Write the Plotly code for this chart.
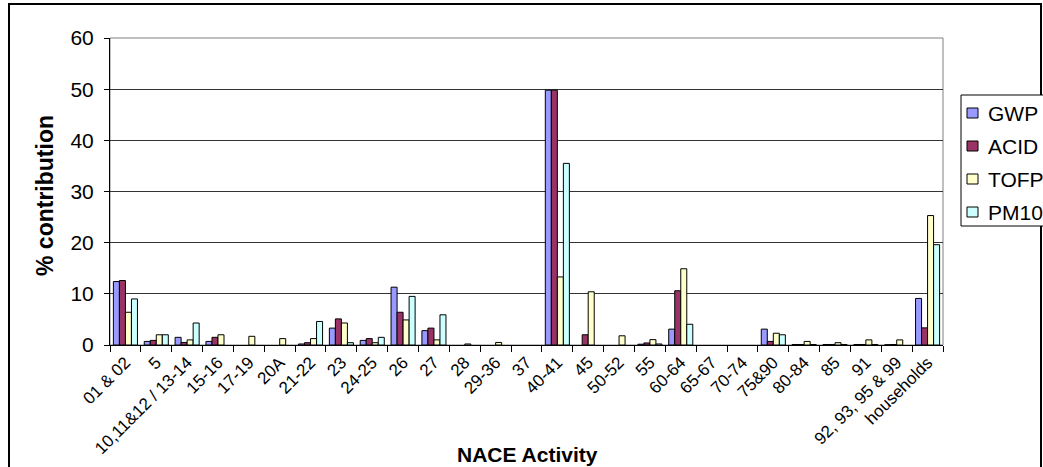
import plotly.graph_objects as go

categories = ["01 & 02", "5", "10,11&12 / 13-14", "15-16", "17-19", "20A", "21-22", "23",
              "24-25", "26", "27", "28", "29-36", "37", "40-41", "45", "50-52", "55",
              "60-64", "65-67", "70-74", "75&90", "80-84", "85", "91", "92, 93, 95 & 99",
              "households"]

gwp = [12.4, 0.7, 1.5, 0.7, 0, 0, 0.2, 3.3, 0.9, 11.3, 2.8, 0, 0, 0, 49.8, 0, 0, 0.15,
       3.1, 0, 0, 3.1, 0.1, 0.1, 0.1, 0.05, 9.1]
acid = [12.6, 0.9, 0.5, 1.5, 0, 0, 0.45, 5.1, 1.25, 6.4, 3.3, 0, 0, 0, 49.8, 2.0, 0, 0.4,
        10.6, 0, 0, 0.7, 0.1, 0.1, 0.1, 0.1, 3.35]
tofp = [6.4, 2.0, 1.0, 2.0, 1.7, 1.25, 1.25, 4.3, 0.45, 4.9, 1.0, 0.2, 0.5, 0, 13.3, 10.4,
        1.8, 1.05, 14.9, 0, 0, 2.3, 0.7, 0.45, 1.0, 1.0, 25.3]
pm10 = [9.0, 2.0, 4.3, 0, 0, 0, 4.6, 0.45, 1.5, 9.5, 5.9, 0, 0, 0, 35.5, 0, 0, 0.2, 4.05,
        0, 0, 2.0, 0.1, 0.1, 0.1, 0, 19.6]

series_names = ["GWP", "ACID", "TOFP", "PM10"]
series_values = [gwp, acid, tofp, pm10]
series_colors = ["#9999FF", "#993366", "#FFFFCC", "#CCFFFF"]

FONT = "Liberation Sans, Arial, sans-serif"

fig = go.Figure()
for name, vals, col in zip(series_names, series_values, series_colors):
    shown = [v if v > 0 else None for v in vals]
    fig.add_trace(go.Bar(x=categories, y=shown, name=name, showlegend=False,
                         marker=dict(color=col, line=dict(color="black", width=1))))

W, H = 1043, 467
L, R, T, B = 110, 100, 38, 122
pw, ph = W - L - R, H - T - B

def px(x):
    return (x - L) / pw

def py(y):
    return (H - B - y) / ph

shapes = [
    dict(type="rect", xref="paper", yref="paper", x0=0, y0=0, x1=1, y1=1,
         line=dict(color="#808080", width=1), layer="below"),
    dict(type="rect", xref="paper", yref="paper", x0=px(9), y0=py(4),
         x1=px(1041), y1=py(480), line=dict(color="black", width=2)),
    # legend box
    dict(type="rect", xref="paper", yref="paper", x0=px(961), y0=py(95),
         x1=px(1060), y1=py(226), line=dict(color="black", width=1),
         fillcolor="white"),
]
annotations = [
    dict(text="<b>% contribution</b>", xref="paper", yref="paper",
         x=px(45), y=py(196), textangle=-90, showarrow=False,
         font=dict(size=23, family=FONT), xanchor="center", yanchor="middle"),
    dict(text="<b>NACE Activity</b>", xref="paper", yref="paper",
         x=px(527), y=py(454), showarrow=False,
         font=dict(size=21, family=FONT), xanchor="center", yanchor="middle"),
]
row_y = [113, 146, 179, 212]
for name, col, ry in zip(series_names, series_colors, row_y):
    shapes.append(dict(type="rect", xref="paper", yref="paper",
                       x0=px(967), x1=px(978), y0=py(ry - 5), y1=py(ry + 5),
                       line=dict(color="black", width=1), fillcolor=col))
    annotations.append(dict(text=name, xref="paper", yref="paper", x=px(986),
                            y=py(ry), xanchor="left", yanchor="middle",
                            showarrow=False, font=dict(size=21, family=FONT)))

fig.update_layout(
    width=W, height=H,
    margin=dict(l=L, r=R, t=T, b=B, autoexpand=False),
    barmode="group", bargap=0.22, bargroupgap=0,
    paper_bgcolor="white", plot_bgcolor="white",
    font=dict(family=FONT, color="black", size=16),
    showlegend=False,
    xaxis=dict(type="category", range=[-0.5, len(categories) - 0.5], automargin=False,
               tickson="boundaries", ticks="outside", ticklen=6, tickcolor="black",
               showline=True, linecolor="black", linewidth=1, tickangle=-45,
               tickfont=dict(size=17, family=FONT), showgrid=False),
    yaxis=dict(range=[0, 60], dtick=10, ticks="outside", ticklen=5, tickcolor="black",
               showline=True, linecolor="black", linewidth=1, automargin=False,
               gridcolor="#333333", gridwidth=1, zeroline=False, ticklabelstandoff=6,
               tickfont=dict(size=21, family=FONT)),
    shapes=shapes,
    annotations=annotations,
)

fig.write_html("out.html", config={"displayModeBar": False},
               post_script="document.body.style.margin='0';document.body.style.overflow='hidden';")
